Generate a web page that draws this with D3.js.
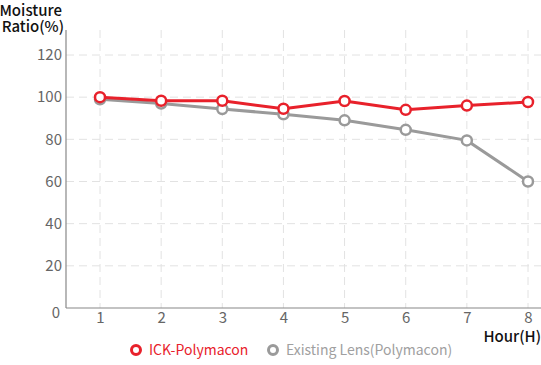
<!DOCTYPE html>
<html><head><meta charset="utf-8">
<script src="https://cdn.jsdelivr.net/npm/d3@7"></script>
<style>body{margin:0;background:#fff}svg{display:block;font-family:"Noto Sans CJK KR","Noto Sans",sans-serif}</style>
</head><body>
<svg id="c" width="541" height="365"></svg>
<script>
const hours = [1,2,3,4,5,6,7,8];
const yTicks = [0,20,40,60,80,100,120];
const ickValues = [100,98.3,98.3,94.5,98.2,94,96,97.7];
const existingValues = [99,97,94.4,91.9,89,84.5,79.5,60];
const seriesNames = ["ICK-Polymacon","Existing Lens(Polymacon)"];
const colors = ["#e8212b","#9a9a9a"];

(function(){
const FONT = '"Noto Sans CJK KR","Noto Sans",sans-serif';
const svg = d3.select("#c");
const x = d3.scaleLinear().domain([1,8]).range([100,528]);
const y = d3.scaleLinear().domain([0,120]).range([308,55]);
const pLeft = 66, pRight = 541, pTop = 30, pBottom = 308;

// grid
svg.append("g").selectAll("line").data(yTicks.filter(d=>d>0)).join("line")
  .attr("x1",pLeft).attr("x2",pRight).attr("y1",d=>y(d)).attr("y2",d=>y(d))
  .attr("stroke","#e2e2e2").attr("stroke-dasharray","8,5");
svg.append("g").selectAll("line").data(hours).join("line")
  .attr("x1",d=>x(d)).attr("x2",d=>x(d)).attr("y1",pTop).attr("y2",pBottom)
  .attr("stroke","#e2e2e2").attr("stroke-dasharray","8,5");

// axes
const ya = svg.append("g").attr("transform",`translate(${pLeft},0)`)
  .call(d3.axisLeft(y).tickValues(yTicks).tickSize(0).tickPadding(4));
ya.select(".domain").remove();
ya.append("line").attr("x1",0).attr("x2",0).attr("y1",pTop).attr("y2",pBottom).attr("stroke","#888").attr("stroke-width",1.2);
ya.selectAll("text").attr("fill","#666").attr("font-size",15).attr("font-family",FONT);
ya.selectAll(".tick").filter(d=>d===0).select("text").attr("dy","0.6em").attr("x",-6);

const xa = svg.append("g").attr("transform",`translate(0,${pBottom})`)
  .call(d3.axisBottom(x).tickValues(hours).tickFormat(d3.format("d")).tickSize(0).tickPadding(4));
xa.select(".domain").remove();
xa.append("line").attr("x1",pLeft).attr("x2",pRight).attr("y1",0).attr("y2",0).attr("stroke","#888").attr("stroke-width",1.2);
xa.selectAll("text").attr("fill","#666").attr("font-size",15).attr("font-family",FONT);

// titles
svg.append("text").attr("x",62).attr("y",16).attr("text-anchor","end").attr("font-size",15).attr("font-weight",500).attr("fill","#111").text("Moisture");
svg.append("text").attr("x",64).attr("y",32).attr("text-anchor","end").attr("font-size",15).attr("font-weight",500).attr("fill","#111").text("Ratio(%)");
svg.append("text").attr("x",541).attr("y",342).attr("text-anchor","end").attr("font-size",15).attr("font-weight",500).attr("fill","#111").text("Hour(H)");

// series
const series = [existingValues, ickValues];
const sColors = [colors[1], colors[0]];
const line = d3.line().x((d,i)=>x(hours[i])).y(d=>y(d));
series.forEach((vals,si)=>{
  const g = svg.append("g");
  g.append("path").datum(vals).attr("d",line).attr("fill","none").attr("stroke",sColors[si]).attr("stroke-width",3);
  g.selectAll("circle").data(vals).join("circle")
    .attr("cx",(d,i)=>x(hours[i])).attr("cy",d=>y(d)).attr("r",5)
    .attr("fill","#fff").attr("stroke",sColors[si]).attr("stroke-width",2.5);
});

// legend
const legX = [136, 273];
seriesNames.forEach((n,i)=>{
  const g = svg.append("g").attr("transform",`translate(${legX[i]},350)`);
  g.append("circle").attr("r",4.5).attr("fill","#fff").attr("stroke",colors[i]).attr("stroke-width",3);
  g.append("text").attr("x",13).attr("y",5).attr("font-size",14).attr("fill",i===0?colors[0]:"#a0a0a0").text(n);
});
})();
</script>
</body></html>
